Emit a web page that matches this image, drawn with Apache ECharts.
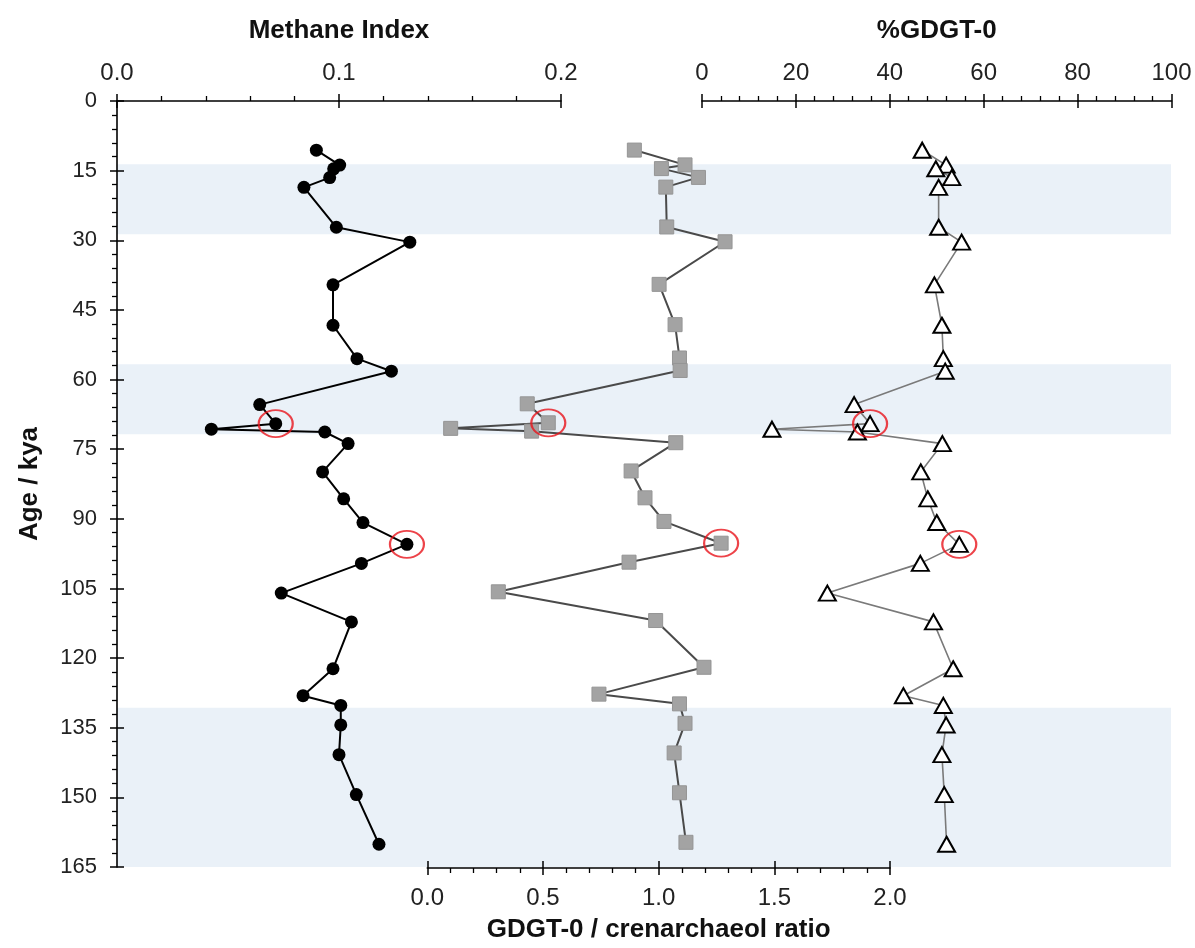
<!DOCTYPE html>
<html><head><meta charset="utf-8">
<script src="https://cdn.jsdelivr.net/npm/echarts@6/dist/echarts.min.js"></script>
<style>html,body{margin:0;padding:0;background:#fff}#c{width:1195px;height:948px}</style>
</head><body><div id="c"></div>
<script>
// ---- data ----
const ages = [10.6,13.8,14.6,16.5,18.6,27.2,30.4,39.6,48.3,55.5,58.2,65.4,69.5,70.7,71.3,73.8,79.9,85.7,90.8,95.5,99.6,106.0,112.2,122.3,128.1,130.2,134.4,140.8,149.4,160.1];
const methaneIndex = [0.0898,0.1003,0.0976,0.0958,0.0842,0.0988,0.1319,0.0973,0.0973,0.1081,0.1236,0.0643,0.0715,0.0425,0.0936,0.1041,0.0926,0.1021,0.1108,0.1306,0.1101,0.0740,0.1056,0.0973,0.0838,0.1008,0.1008,0.1000,0.1078,0.1180];
const gdgtCrenRatio = [0.895,1.114,1.012,1.172,1.031,1.035,1.287,1.002,1.071,1.090,1.093,0.432,0.523,0.101,0.451,1.074,0.881,0.941,1.023,1.270,0.872,0.307,0.987,1.196,0.742,1.090,1.114,1.067,1.090,1.118];
const pctGdgt0 = [46.9,52.0,49.8,53.2,50.4,50.4,55.3,49.5,51.1,51.4,51.8,32.4,35.8,14.9,33.1,51.2,46.6,48.1,50.0,54.8,46.5,26.7,49.3,53.5,42.9,51.4,52.0,51.1,51.6,52.1];
const highlightedAges = [69.5, 95.5];
const glacialBands = [[13.6, 28.7], [56.7, 71.8], [130.7, 165]];
const ageMin = 0, ageMax = 165, ageStep = 15;

// ---- layout ----
const FONT = "'Liberation Sans', Arial, sans-serif";
const T = 101, H = 766;
const gBand = {left: 117, top: T, width: 1054, height: H};
const gMeth = {left: 117, top: T, width: 444, height: H};
const gRat  = {left: 427.3, top: T, width: 462.7, height: H};
const gPct  = {left: 702, top: T, width: 469.5, height: H};

const pairs = (vals) => vals.map((v, i) => [v, ages[i]]);
const rings = (vals) => highlightedAges.map(a => [vals[ages.indexOf(a)], a]);

const lineStyleAx = {color: '#000', width: 1.6};
function mainX(grid, pos, min, max, interval, fmt, name, extra) {
  return Object.assign({
    gridIndex: grid, type: 'value', position: pos, min, max, interval, z: 5,
    axisLine: {show: true, onZero: false, lineStyle: lineStyleAx},
    axisTick: {show: true, length: 7, lineStyle: {color: '#000', width: 1.5}},
    minorTick: {show: true, splitNumber: 5, length: 5, lineStyle: {color: '#000', width: 1.3}},
    splitLine: {show: false}, minorSplitLine: {show: false},
    axisLabel: {formatter: fmt, fontFamily: FONT, fontSize: 24, color: '#222', margin: 16},
    name, nameLocation: 'middle',
    nameTextStyle: {fontFamily: FONT, fontWeight: 'bold', fontSize: 26, color: '#111'}
  }, extra || {});
}
function innerX(grid, pos, min, max, interval, extra) {
  return Object.assign({
    gridIndex: grid, type: 'value', position: pos, min, max, interval, z: 5,
    axisLine: {show: false, onZero: false},
    axisTick: {show: true, inside: true, length: 7, lineStyle: {color: '#000', width: 1.5}},
    minorTick: {show: false}, splitLine: {show: false}, axisLabel: {show: false}
  }, extra || {});
}
function hiddenY(grid) {
  return {gridIndex: grid, type: 'value', inverse: true, min: ageMin, max: ageMax, show: false,
    axisLine: {onZero: false}};
}

const option = {
  animation: false,
  backgroundColor: '#fff',
  grid: [gBand, gMeth, gRat, gPct],
  xAxis: [
    {gridIndex: 0, type: 'value', min: 0, max: 1, show: false, axisLine: {onZero: false}},
    mainX(1, 'top', 0, 0.2, 0.1, v => v.toFixed(1), 'Methane Index', {nameGap: 57}),
    innerX(1, 'top', 0, 0.2, 0.1),
    mainX(2, 'bottom', 0, 2, 0.5, v => v.toFixed(1), 'GDGT-0 / crenarchaeol ratio', {
      offset: 3, nameGap: 49,
      axisLabel: {formatter: v => v.toFixed(1), fontFamily: FONT, fontSize: 24, color: '#222', margin: 18}
    }),
    innerX(2, 'bottom', 0, 2, 0.5, {offset: 3}),
    mainX(3, 'top', 0, 100, 20, v => String(v), '%GDGT-0', {nameGap: 57}),
    innerX(3, 'top', 0, 100, 20)
  ],
  yAxis: [
    hiddenY(0),
    {
      gridIndex: 1, type: 'value', position: 'left', inverse: true, min: ageMin, max: ageMax, interval: ageStep, z: 5,
      axisLine: {show: true, onZero: false, lineStyle: lineStyleAx},
      axisTick: {show: true, length: 7, lineStyle: {color: '#000', width: 1.5}},
      minorTick: {show: true, splitNumber: 5, length: 5, lineStyle: {color: '#000', width: 1.3}},
      splitLine: {show: false},
      axisLabel: {fontFamily: FONT, fontSize: 22, color: '#222', margin: 20},
      name: 'Age / kya', nameLocation: 'middle', nameGap: 74,
      nameTextStyle: {fontFamily: FONT, fontWeight: 'bold', fontSize: 26, color: '#111'}
    },
    {
      gridIndex: 1, type: 'value', position: 'left', inverse: true, min: ageMin, max: ageMax, interval: ageStep, z: 5,
      axisLine: {show: false, onZero: false},
      axisTick: {show: true, inside: true, length: 7, lineStyle: {color: '#000', width: 1.5}},
      minorTick: {show: false}, splitLine: {show: false}, axisLabel: {show: false}
    },
    hiddenY(2),
    hiddenY(3)
  ],
  series: [
    {
      type: 'line', xAxisIndex: 0, yAxisIndex: 0, data: [], z: 1, silent: true,
      markArea: {silent: true, itemStyle: {color: '#eaf1f8'},
        data: glacialBands.map(b => [{yAxis: b[0]}, {yAxis: b[1]}])}
    },
    {
      name: 'Methane Index', type: 'line', xAxisIndex: 1, yAxisIndex: 1, z: 6,
      data: pairs(methaneIndex),
      symbol: 'circle', symbolSize: 13,
      itemStyle: {color: '#000'},
      lineStyle: {color: '#000', width: 2}
    },
    {
      name: 'GDGT-0 / crenarchaeol', type: 'line', xAxisIndex: 3, yAxisIndex: 3, z: 6,
      data: pairs(gdgtCrenRatio),
      symbol: 'rect', symbolSize: 14,
      itemStyle: {color: '#a3a3a3', borderColor: '#959595', borderWidth: 1},
      lineStyle: {color: '#4a4a4a', width: 2}
    },
    {
      name: '%GDGT-0', type: 'line', xAxisIndex: 5, yAxisIndex: 4, z: 6,
      data: pairs(pctGdgt0),
      symbol: 'triangle', symbolSize: [17, 15],
      itemStyle: {color: '#fff', borderColor: '#000', borderWidth: 2},
      lineStyle: {color: '#7a7a7a', width: 1.6}
    },
    {type: 'scatter', xAxisIndex: 1, yAxisIndex: 1, z: 7, data: rings(methaneIndex),
      symbol: 'circle', symbolSize: [34, 27],
      itemStyle: {color: 'rgba(0,0,0,0)', borderColor: '#e8141b', borderWidth: 2}},
    {type: 'scatter', xAxisIndex: 3, yAxisIndex: 3, z: 7, data: rings(gdgtCrenRatio),
      symbol: 'circle', symbolSize: [34, 27],
      itemStyle: {color: 'rgba(0,0,0,0)', borderColor: '#e8141b', borderWidth: 2}},
    {type: 'scatter', xAxisIndex: 5, yAxisIndex: 4, z: 7, data: rings(pctGdgt0),
      symbol: 'circle', symbolSize: [34, 27],
      itemStyle: {color: 'rgba(0,0,0,0)', borderColor: '#e8141b', borderWidth: 2}}
  ]
};
const chart = echarts.init(document.getElementById('c'), null, {renderer: 'canvas'});
chart.setOption(option);
</script></body></html>
